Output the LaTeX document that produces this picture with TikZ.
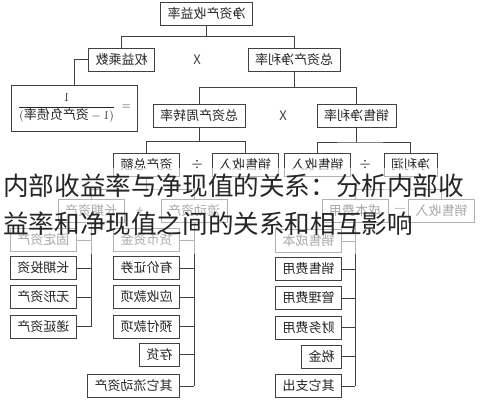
\documentclass[tikz,border=0pt]{standalone}
\usepackage{fontspec}
\usepackage{graphicx}
\newfontfamily\cjk{Noto Sans CJK SC}
\newcommand{\mir}[1]{\reflectbox{#1}}
\usetikzlibrary{positioning}

\begin{document}
\begin{tikzpicture}[
        x=1pt, y=-1pt,
        item/.style={rectangle, draw=black!75, line width=1pt, fill=white, text=black!85, font=\cjk\fontsize{13}{15}\selectfont, inner xsep=7pt, inner ysep=2pt, minimum height=23pt, text centered},
        op/.style={font=\cjk\fontsize{13}{15}\selectfont, text=black!75},
        link/.style={draw=black!75, line width=1pt},
        title/.style={anchor=base west, inner sep=0pt, text=black!85, font=\cjk\fontsize{25.6}{30}\selectfont}
    ]
    \useasboundingbox (0,0) rectangle (487,400);

    % top levels
    \node[item] (roe) at (206.5,13.5) {\mir{净资产收益率}};
    \node[item] (em) at (121.5,59.5) {\mir{权益乘数}};
    \node[item] (roa) at (294,59.5) {\mir{总资产净利率}};
    \node[op] (x1) at (197,60) {X};
    \node[item, minimum width=121pt, minimum height=46pt] (lev) at (74.5,108) {\mir{$\displaystyle =\;\frac{1}{(1-\mbox{资产负债率})}$}};
    \node[item] (tat) at (199,115.5) {\mir{总资产周转率}};
    \node[item] (npm) at (356.5,116) {\mir{销售净利率}};
    \node[op] (x2) at (283,116) {X};

    % third level
    \node[item] (ta) at (146.5,165) {\mir{资产总额}};
    \node[op] (d1) at (197,165) {÷};
    \node[item] (rev1) at (245,165) {\mir{销售收入}};
    \node[item] (rev2) at (317.5,165) {\mir{销售收入}};
    \node[op] (d2) at (365,165) {÷};
    \node[item] (np) at (410.5,165) {\mir{净利润}};

    % fourth level
    \node[item] (lta) at (91,211) {\mir{长期资产}};
    \node[op] (plus) at (140,211) {+};
    \node[item] (ca) at (194,211) {\mir{流动资产}};
    \node[item] (cost) at (355,211) {\mir{成本费用}};
    \node[op] (minus) at (400,210) {—};
    \node[item] (rev3) at (441.5,211) {\mir{销售收入}};

    % columns
    \node[item, anchor=east] (fa) at (77,240) {\mir{固定资产}};
    \node[item, anchor=east] (li) at (77,268) {\mir{长期投资}};
    \node[item, anchor=east] (ia) at (77,297) {\mir{无形资产}};
    \node[item, anchor=east] (da) at (77,326.5) {\mir{递延资产}};

    \node[item, anchor=east] (cash) at (180,240) {\mir{货币资金}};
    \node[item, anchor=east] (sec) at (180,268) {\mir{有价证券}};
    \node[item, anchor=east] (ar) at (180,297) {\mir{应收款项}};
    \node[item, anchor=east] (pre) at (180,326.5) {\mir{预付款项}};
    \node[item, anchor=east] (inv) at (180,354.5) {\mir{存货}};
    \node[item, anchor=east] (oca) at (180,386) {\mir{其它流动资产}};

    \node[item, anchor=east] (cogs) at (342,241) {\mir{销售成本}};
    \node[item, anchor=east] (sell) at (342,269) {\mir{销售费用}};
    \node[item, anchor=east] (adm) at (342,298) {\mir{管理费用}};
    \node[item, anchor=east] (fin) at (342,327.5) {\mir{财务费用}};
    \node[item, anchor=east] (tax) at (342,356.5) {\mir{税金}};
    \node[item, anchor=east] (oth) at (342,386) {\mir{其它支出}};

    % tree links
    \draw[link] (roe.south) -- ++(0,11) coordinate (j1);
    \draw[link] (em.north) |- (j1) -| (roa.north);
    \draw[link] (em.west) -| (lev.north);
    \draw[link] (roa.south) -- ++(0,16) coordinate (j2);
    \draw[link] (tat.north) |- (j2) -| (npm.north);
    \draw[link] (tat.south) -- ++(0,14) coordinate (j3);
    \draw[link] (ta.north) |- (j3) -| (rev1.north);
    \draw[link] (npm.south) -- ++(0,14) coordinate (j4);
    \draw[link] (rev2.north) |- (j4) -| (np.north);
    \draw[link] (ta.south) -- ++(0,12) coordinate (j5);
    \draw[link] (lta.north) |- (j5) -| (ca.north);
    \draw[link] (np.south) -- ++(0,12) coordinate (j6);
    \draw[link] (cost.north) |- (j6) -| (rev3.north);

    % column links
    \draw[link] (lta.south) -- (lta.south |- da.east);
    \foreach \n in {fa,li,ia,da}
        \draw[link] (\n.east) -- (\n.east -| lta.south);
    \draw[link] (ca.south) -- (ca.south |- oca.east);
    \foreach \n in {cash,sec,ar,pre,inv,oca}
        \draw[link] (\n.east) -- (\n.east -| ca.south);
    \draw[link] (cost.south) -- (cost.south |- oth.east);
    \foreach \n in {cogs,sell,adm,fin,tax,oth}
        \draw[link] (\n.east) -- (\n.east -| cost.south);

    % caption laid over the chart
    \fill[white, opacity=0.6] (0,168) rectangle (487,254);
    \node[title] (cap1) at (3,195) {内部收益率与净现值的关系：分析内部收};
    \node[title] (cap2) at (3,233) {益率和净现值之间的关系和相互影响};
\end{tikzpicture}
\end{document}
